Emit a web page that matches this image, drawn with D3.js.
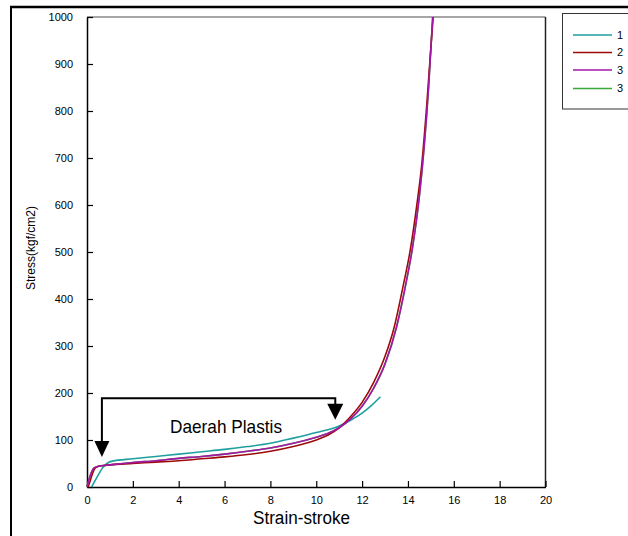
<!DOCTYPE html>
<html><head><meta charset="utf-8">
<script src="https://cdn.jsdelivr.net/npm/d3@7"></script>
<style>html,body{margin:0;padding:0;background:#fff;}svg{display:block;font-family:Arial,"Liberation Sans",sans-serif;}</style>
</head><body>
<script>
const xTicks = [0,2,4,6,8,10,12,14,16,18,20];
const yTicks = [0,100,200,300,400,500,600,700,800,900,1000];
const seriesNames = ["1","2","3","3"];
const seriesColors = ["#1f9f9f","#9e0a0a","#a516a8","#3aa83a"];
const s1 = [[0.2,0],[0.45,22],[0.7,42],[0.9,51],[1.1,55],[2,60],[3,65],[4,70],[5,75],[6,80],[7,86],[8,93],[9,104],[10,116],[11,130],[11.5,142],[12,157],[12.4,173],[12.8,192]];
const s2 = [[0.05,0],[0.15,15],[0.25,30],[0.35,40],[0.5,44],[0.8,46],[1,47],[2,50],[3,53],[4,56],[5,60],[6,64],[7,69],[8,76],[9,86],[10,100],[10.5,110],[11,126],[11.5,150],[12,180],[12.5,222],[13,278],[13.4,340],[13.8,430],[14.1,504],[14.4,605],[14.6,685],[14.8,800],[15,935],[15.1,1000]];
const s3 = [[0,0],[0.1,18],[0.2,32],[0.3,40],[0.5,44],[1,47],[2,52],[3,56],[4,61],[5,65],[6,70],[7,76],[8,83],[9,93],[10,106],[10.5,114],[11,126],[11.5,145],[12,172],[12.5,210],[13,262],[13.5,340],[13.9,430],[14.2,510],[14.5,620],[14.7,720],[14.9,850],[15.08,1000]];
const s4 = [[0,0],[0.1,18],[0.2,32],[0.3,40],[0.5,44],[1,47],[2,52],[3,56],[4,61],[5,65],[6,70],[7,76],[8,83],[9,93],[10,106],[10.5,114],[11,126],[11.5,145],[12,172],[12.5,210],[13,262],[13.5,340],[13.9,430],[14.2,510],[14.5,620],[14.7,720],[14.9,850],[15.08,1000]];
const seriesData = [s1,s2,s3,s4];
const drawOrder = [3,0,1,2];
const annoLabel = "Daerah Plastis";
const annoBarY = 189;
const annoLeft = [0.65, 64];
const annoRight = [10.83, 143];

const W=628,H=536;
const svg=d3.select("body").append("svg").attr("width",W).attr("height",H);
svg.append("rect").attr("width",W).attr("height",H).attr("fill","#fff");
// outer frame
svg.append("line").attr("x1",10).attr("x2",W).attr("y1",7).attr("y2",7).attr("stroke","#000").attr("stroke-width",2.5);
svg.append("line").attr("x1",11).attr("x2",11).attr("y1",6).attr("y2",H).attr("stroke","#000").attr("stroke-width",2);

const L=87,R=545.5,T=17,B=487;
const x=d3.scaleLinear().domain([0,20]).range([L,R]);
const y=d3.scaleLinear().domain([0,1000]).range([B,T]);

// plot frame
svg.append("line").attr("x1",L).attr("x2",R).attr("y1",T).attr("y2",T).attr("stroke","#888").attr("stroke-width",1.5);
svg.append("line").attr("x1",R).attr("x2",R).attr("y1",T).attr("y2",B).attr("stroke","#222").attr("stroke-width",1.5);

const xAxis=svg.append("g").attr("transform",`translate(0,${B})`)
  .call(d3.axisBottom(x).tickValues(xTicks).tickFormat(d3.format("d")).tickSizeInner(-6).tickSizeOuter(0).tickPadding(9));
const yAxis=svg.append("g").attr("transform",`translate(${L},0)`)
  .call(d3.axisLeft(y).tickValues(yTicks).tickFormat(d3.format("d")).tickSizeInner(-6).tickSizeOuter(0).tickPadding(14));
[xAxis,yAxis].forEach(g=>{
  g.select(".domain").attr("stroke","#000").attr("stroke-width",1.5);
  g.selectAll(".tick line").attr("stroke","#000").attr("stroke-width",1.2);
  g.selectAll(".tick text").attr("fill","#000").attr("font-size",11).attr("font-family","Arial,'Liberation Sans',sans-serif");
});
yAxis.selectAll(".tick text").attr("dy","0.35em");

const line=d3.line().x(d=>x(d[0])).y(d=>y(d[1])).curve(d3.curveMonotoneX);
drawOrder.forEach(i=>{
  svg.append("path").datum(seriesData[i]).attr("d",line).attr("fill","none")
    .attr("stroke",seriesColors[i]).attr("stroke-width",1.6);
});

// annotation
const bx0=x(annoLeft[0]), bx1=x(annoRight[0]), by=y(annoBarY);
const tipL=y(annoLeft[1]), tipR=y(annoRight[1]);
svg.append("path").attr("d",`M${bx0},${tipL-15}V${by}H${bx1}V${tipR-15}`).attr("fill","none").attr("stroke","#000").attr("stroke-width",2);
svg.append("path").attr("d",`M${bx0-7.5},${tipL-16}L${bx0+7.5},${tipL-16}L${bx0},${tipL}Z`).attr("fill","#000");
svg.append("path").attr("d",`M${bx1-8},${tipR-16}L${bx1+8},${tipR-16}L${bx1},${tipR}Z`).attr("fill","#000");
svg.append("text").attr("x",170).attr("y",433).attr("font-size",19).attr("textLength",112).attr("lengthAdjust","spacingAndGlyphs").attr("fill","#000").text(annoLabel);

// axis titles
svg.append("text").attr("x",253).attr("y",524).attr("font-size",18).attr("textLength",97).attr("lengthAdjust","spacingAndGlyphs").attr("fill","#000").text("Strain-stroke");
svg.append("text").attr("transform","translate(35,248) rotate(-90)").attr("text-anchor","middle").attr("font-size",12).attr("fill","#000").text("Stress(kgf/cm2)");

// legend
svg.append("rect").attr("x",562.5).attr("y",13.5).attr("width",80).attr("height",95.5).attr("fill","#fff").attr("stroke","#333").attr("stroke-width",1);
const legY=[35,52.5,70,88.5];
seriesNames.forEach((n,i)=>{
  svg.append("line").attr("x1",573).attr("x2",612).attr("y1",legY[i]).attr("y2",legY[i]).attr("stroke",seriesColors[i]).attr("stroke-width",1.6);
  svg.append("text").attr("x",617).attr("y",legY[i]).attr("dy","0.35em").attr("font-size",11).attr("fill","#000").text(n);
});
</script>
</body></html>
